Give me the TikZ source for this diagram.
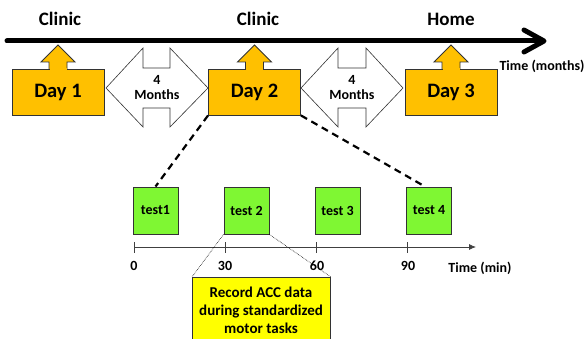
\documentclass[tikz,border=0pt]{standalone}
\usepackage{fontspec}
\setmainfont{Carlito}
\usetikzlibrary{arrows.meta,calc}
\definecolor{dayfill}{HTML}{FFC000}
\definecolor{testfill}{HTML}{7FF733}
\definecolor{recfill}{HTML}{FFFF00}
\definecolor{edge}{HTML}{333333}
\tikzset{
  daybox/.style={draw=edge, line width=0.9pt, fill=dayfill, minimum width=92pt, minimum height=46pt, inner sep=0pt, font=\bfseries\fontsize{20.5}{22}\selectfont},
  testbox/.style={draw=edge, line width=0.9pt, fill=testfill, minimum width=45pt, minimum height=47pt, inner sep=0pt, font=\bfseries\fontsize{14}{16}\selectfont},
  place/.style={font=\bfseries\fontsize{19}{21}\selectfont},
  small/.style={font=\bfseries\fontsize{14}{16}\selectfont},
  rectext/.style={font=\bfseries\fontsize{15}{17}\selectfont},
  dblarrow/.style={draw=black!80, line width=0.6pt, fill=white},
}
\begin{document}
\begin{tikzpicture}[x=1pt,y=-1pt]
\useasboundingbox (0,0) rectangle (586,339);
% main timeline
\draw[line width=5pt, line cap=round] (7,41) -- (541,41);
\draw[line width=5pt, line cap=round, line join=round] (524,30) -- (544,41) -- (524,52);
\node[place] (c1) at (60,19) {Clinic};
\node[place] (c2) at (258,19) {Clinic};
\node[place] (hm) at (451,19) {Home};
\node[small, anchor=west] (tm) at (496,66) {Time (months)};
% double arrows
\draw[dblarrow] (106,88) -- (143,48) -- (143,68) -- (170,68) -- (170,48) -- (208,88) -- (170,127) -- (170,108) -- (143,108) -- (143,127) -- cycle;
\draw[dblarrow] (301,88) -- (338,48) -- (338,68) -- (366,68) -- (366,48) -- (403,88) -- (366,127) -- (366,108) -- (338,108) -- (338,127) -- cycle;
\node[small, align=center] (m1) at (157,88) {4\\[-1pt]Months};
\node[small, align=center] (m2) at (352,88) {4\\[-1pt]Months};
% day boxes with up-arrows
\foreach \n/\cx/\lab in {d1/58/Day 1, d2/254.5/Day 2, d3/451/Day 3}{
  \fill[dayfill] (\cx-9,70) -- (\cx-9,62) -- (\cx-17,62) -- (\cx,45) -- (\cx+17,62) -- (\cx+9,62) -- (\cx+9,70) -- cycle;
  \draw[edge, line width=0.9pt] (\cx-9,69) -- (\cx-9,62) -- (\cx-17,62) -- (\cx,45) -- (\cx+17,62) -- (\cx+9,62) -- (\cx+9,69);
  \node[daybox] (\n) at (\cx,92) {\lab};
  \fill[dayfill] (\cx-8.5,68.2) rectangle (\cx+8.5,70.5);
}
% tests
\node[testbox] (t1) at (155.5,210.5) {test1};
\node[testbox] (t2) at (246.5,210.5) {test 2};
\node[testbox] (t3) at (337.5,210.5) {test 3};
\node[testbox] (t4) at (429,210.5) {test 4};
% dashed zoom lines
\draw[line width=2.2pt, dash pattern=on 7pt off 5pt] (d2.south west) -- (t1.north);
\draw[line width=2.2pt, dash pattern=on 7pt off 5pt] (d2.south east) -- ($(t4.north)+(-4,0)$);
% minute timeline
\coordinate (m0) at (134,247);
\coordinate (mend) at (476,247);
\draw[black!75, line width=0.8pt, -{Latex[length=7pt,width=6pt]}] (m0) -- (mend);
\foreach \x/\l in {134/0, 225/30, 316/60, 407/90}{
  \draw[black!75, line width=0.8pt] (\x,242) -- (\x,253);
}
\node[small] (l0) at (134,266) {0};
\node[small] (l30) at (225,266) {30};
\node[small] (l60) at (317,266) {60};
\node[small] (l90) at (408,266) {90};
\node[small] (tmin) at (480,268) {Time (min)};
% callout
\node[draw=edge, line width=0.9pt, fill=recfill, minimum width=138pt, minimum height=68pt, anchor=north west, inner sep=0pt] (rec) at (192,277) {};
\node[rectext, align=center] (rect) at (261,310) {Record ACC data\\[1pt]during standardized\\[1pt]motor tasks};
\draw[densely dotted, line width=0.6pt] (t2.south west) -- (rec.north west);
\draw[densely dotted, line width=0.6pt] (t2.south east) -- (rec.north east);
\end{tikzpicture}
\end{document}
